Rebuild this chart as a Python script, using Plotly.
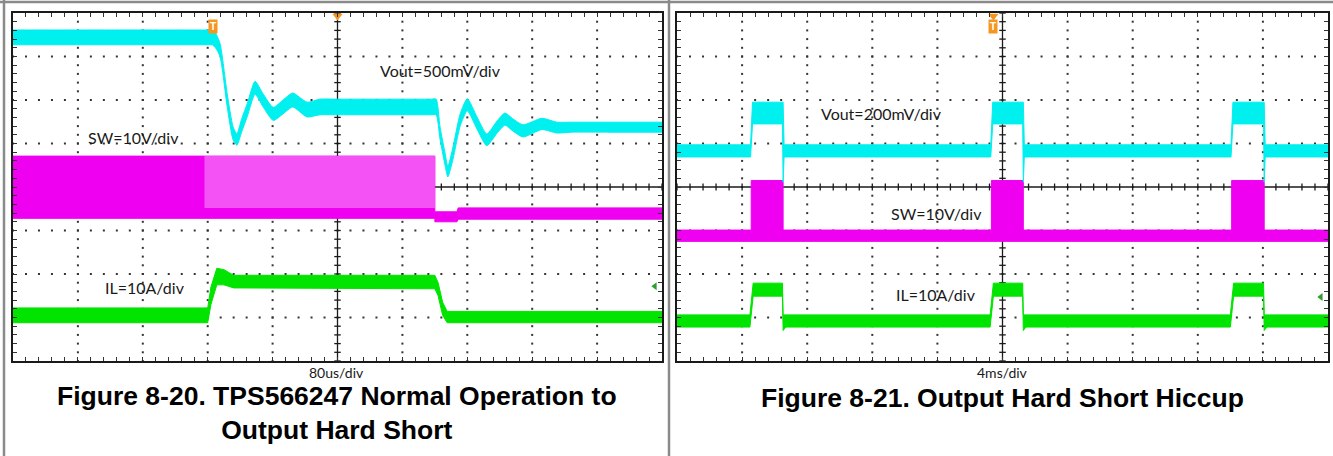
import numpy as np
import plotly.graph_objects as go

# ---- data read off the two scope captures (x in divisions, y in divisions) ----
# left capture: normal operation -> output hard short, 80us/div
vout_l_t = [-5.00, -3.50, -2.10, -1.97, -1.93, -1.88, -1.81, -1.70, -1.61, -1.55, -1.48, -1.39, -1.27, -1.15, -0.99,
            -0.84, -0.69, -0.47, -0.27, 0.00, 1.30, 1.45, 1.52, 1.58, 1.66, 1.70, 1.78, 1.89, 2.00, 2.15, 2.30,
            2.46, 2.58, 2.70, 2.86, 3.15, 3.38, 3.60, 4.20, 5.00]
vout_l_hi = [3.61, 3.61, 3.61, 3.61, 3.61, 3.54, 3.30, 2.15, 1.39, 1.22, 1.55, 1.92, 2.43, 2.15, 1.83,
             2.00, 2.16, 1.95, 2.02, 2.02, 2.02, 2.02, 2.02, 1.38, 0.76, 0.47, 0.92, 1.68, 2.03, 1.61, 1.22,
             1.52, 1.70, 1.57, 1.43, 1.58, 1.49, 1.49, 1.49, 1.49]
vout_l_lo = [3.27, 3.27, 3.27, 3.27, 3.27, 3.20, 3.00, 1.85, 1.09, 0.96, 1.25, 1.62, 2.13, 1.85, 1.53,
             1.68, 1.84, 1.61, 1.66, 1.66, 1.66, 1.66, 1.66, 1.10, 0.48, 0.23, 0.64, 1.40, 1.75, 1.33, 0.95,
             1.24, 1.42, 1.29, 1.15, 1.32, 1.24, 1.26, 1.26, 1.26]

sw_l_t = [-5.00, 1.50, 1.50, 1.84, 1.86, 5.00]
sw_l_hi = [0.71, 0.71, -0.57, -0.57, -0.48, -0.48]
sw_l_lo = [-0.72, -0.72, -0.80, -0.80, -0.74, -0.74]
sw_l_sparse_t = [-2.05, 1.50]          # interval where the switching gets sparse
sw_l_sparse_hi = [0.71, 0.71]
sw_l_sparse_lo = [-0.48, -0.48]

il_l_t = [-5.00, -2.00, -1.95, -1.86, -1.75, -1.60, 1.50, 1.55, 1.62, 1.69, 5.00]
il_l_hi = [-2.78, -2.78, -2.30, -1.87, -1.90, -2.03, -2.03, -2.20, -2.65, -2.86, -2.86]
il_l_lo = [-3.12, -3.12, -2.70, -2.25, -2.25, -2.32, -2.34, -2.50, -2.95, -3.12, -3.12]

# right capture: output hard short hiccup, 4ms/div
vout_r_t = [-5.00, -3.87, -3.84, -3.38, -3.37, -3.355, -0.18, -0.15, 0.31, 0.32, 0.335, 3.51, 3.54, 4.01, 4.02, 4.035, 5.00]
vout_r_hi = [0.97, 0.97, 1.95, 1.95, 1.95, 0.97, 0.97, 1.95, 1.95, 1.95, 0.97, 0.97, 1.95, 1.95, 1.95, 0.97, 0.97]
vout_r_lo = [0.69, 0.69, 1.45, 1.45, 0.11, 0.69, 0.69, 1.45, 1.45, 0.11, 0.69, 0.69, 1.45, 1.45, 0.11, 0.69, 0.69]

sw_r_t = [-5.00, -3.86, -3.86, -3.37, -3.37, -0.17, -0.17, 0.32, 0.32, 3.52, 3.52, 4.02, 4.02, 5.00]
sw_r_hi = [-0.99, -0.99, 0.15, 0.15, -0.99, -0.99, 0.15, 0.15, -0.99, -0.99, 0.15, 0.15, -0.99, -0.99]
sw_r_lo = [-1.25] * 14

il_r_t = [-5.00, -3.88, -3.83, -3.38, -3.37, -3.33, -0.19, -0.14, 0.31, 0.32, 0.36, 3.50, 3.55, 4.01, 4.02, 4.06, 5.00]
il_r_hi = [-2.94, -2.94, -2.21, -2.21, -2.94, -2.94, -2.94, -2.21, -2.21, -2.94, -2.94, -2.94, -2.21, -2.21, -2.94, -2.94, -2.94]
il_r_lo = [-3.22, -3.22, -2.51, -2.51, -3.30, -3.22, -3.22, -2.51, -2.51, -3.30, -3.22, -3.22, -2.51, -2.51, -3.30, -3.22, -3.22]

trig_t = [-1.92, -0.14]      # trigger point, left / right
trig_top_t = [0.0, -0.14]    # trigger position marker on top edge
gnd_t = [4.89, 4.89]         # IL reference arrow
gnd_v = [-2.28, -2.53]

labels_l = ["Vout=500mV/div", "SW=10V/div", "IL=10A/div"]
labels_l_t = [1.58, -3.15, -2.97]
labels_l_v = [2.67, 1.13, -2.32]
labels_r = ["Vout=200mV/div", "SW=10V/div", "IL=10A/div"]
labels_r_t = [-1.86, -1.02, -1.02]
labels_r_v = [1.70, -0.60, -2.48]
timebase = ["80us/div", "4ms/div"]
captions = ["Figure 8-20. TPS566247 Normal Operation to<br>Output Hard Short",
            "Figure 8-21. Output Hard Short Hiccup"]

CYAN = "#00EFEF"
MAG = "#F000F0"
GRN = "#00E400"
ORANGE = "#F5961E"

W, H = 1333, 456
fig = go.Figure()


def band(t, hi, lo, color, xa, ya, fillcolor=None, width=1, shape="linear"):
    fig.add_trace(go.Scatter(x=t, y=lo, mode="lines", line=dict(color=color, width=width, shape=shape, smoothing=0.6),
                             xaxis=xa, yaxis=ya, hoverinfo="skip", showlegend=False))
    fig.add_trace(go.Scatter(x=t, y=hi, mode="lines", line=dict(color=color, width=width, shape=shape, smoothing=0.6),
                             fill="tonexty", fillcolor=fillcolor or color,
                             xaxis=xa, yaxis=ya, hoverinfo="skip", showlegend=False))


def graticule(xa, ya):
    # dotted division grid
    gx, gy = [], []
    for i in range(-4, 5):
        if i == 0:
            continue
        for v in np.arange(-4, 4.001, 0.2):
            gx.append(i)
            gy.append(v)
    for j in range(-3, 4):
        if j == 0:
            continue
        for t in np.arange(-5, 5.001, 0.2):
            gx.append(t)
            gy.append(j)
    fig.add_trace(go.Scatter(x=gx, y=gy, mode="markers", xaxis=xa, yaxis=ya,
                             marker=dict(size=2, color="#333333", symbol="square", line=dict(width=0)),
                             hoverinfo="skip", showlegend=False))
    # center cross with sub-division ticks
    tx, ty = [-5, 5, None, 0, 0, None], [0, 0, None, -4, 4, None]
    for t in np.arange(-5, 5.001, 0.2):
        tx += [t, t, None]
        ty += [-0.08, 0.08, None]
    for v in np.arange(-4, 4.001, 0.2):
        tx += [-0.05, 0.05, None]
        ty += [v, v, None]
    fig.add_trace(go.Scatter(x=tx, y=ty, mode="lines", xaxis=xa, yaxis=ya,
                             line=dict(color="#1a1a1a", width=1.3),
                             hoverinfo="skip", showlegend=False))


graticule("x", "y")
graticule("x2", "y2")

# left capture
band(sw_l_t, sw_l_hi, sw_l_lo, MAG, "x", "y")
band(sw_l_sparse_t, sw_l_sparse_hi, sw_l_sparse_lo, "rgba(0,0,0,0)", "x", "y",
     fillcolor="rgba(255,255,255,0.32)", width=0)
band(il_l_t, il_l_hi, il_l_lo, GRN, "x", "y")
band(vout_l_t, vout_l_hi, vout_l_lo, CYAN, "x", "y", shape="spline")

# right capture
band(sw_r_t, sw_r_hi, sw_r_lo, MAG, "x2", "y2")
band(il_r_t, il_r_hi, il_r_lo, GRN, "x2", "y2")
band(vout_r_t, vout_r_hi, vout_r_lo, CYAN, "x2", "y2")

# trigger / reference markers
for k, (xa, ya) in enumerate([("x", "y"), ("x2", "y2")]):
    fig.add_trace(go.Scatter(x=[trig_top_t[k]], y=[3.93], mode="markers", xaxis=xa, yaxis=ya,
                             marker=dict(symbol="triangle-down", size=9, color=ORANGE),
                             cliponaxis=False, hoverinfo="skip", showlegend=False))
    fig.add_trace(go.Scatter(x=[gnd_t[k]], y=[gnd_v[k]], mode="markers", xaxis=xa, yaxis=ya,
                             marker=dict(symbol="triangle-left", size=7, color="#2E9E2E"),
                             hoverinfo="skip", showlegend=False))
    fig.add_annotation(x=trig_t[k], y=3.70, xref=xa, yref=ya, text="<b>T</b>", showarrow=False,
                       bgcolor=ORANGE, font=dict(color="white", size=10, family="Liberation Sans"),
                       borderpad=1)

lab_font = dict(family="Lato", size=16, color="#1a1a1a")
for s, t, v in zip(labels_l, labels_l_t, labels_l_v):
    fig.add_annotation(x=t, y=v, xref="x", yref="y", text=s, showarrow=False, font=lab_font)
for s, t, v in zip(labels_r, labels_r_t, labels_r_v):
    fig.add_annotation(x=t, y=v, xref="x2", yref="y2", text=s, showarrow=False, font=lab_font)

for k, xc in enumerate([337, 1002]):
    fig.add_annotation(x=xc / W, y=1 - 372 / H, xref="paper", yref="paper", text=timebase[k],
                       xanchor="center", yanchor="middle",
                       showarrow=False, font=dict(family="Lato", size=14, color="#1a1a1a"))
fig.add_annotation(x=337 / W, y=1 - 413 / H, xref="paper", yref="paper",
                   text="<b>" + captions[0].replace("<br>", "</b><br><b>") + "</b>",
                   xanchor="center", yanchor="middle",
                   showarrow=False, font=dict(family="Liberation Sans", size=26.5, color="black"))
fig.add_annotation(x=1002 / W, y=1 - 398 / H, xref="paper", yref="paper", text="<b>" + captions[1] + "</b>",
                   xanchor="center", yanchor="middle",
                   showarrow=False, font=dict(family="Liberation Sans", size=26.5, color="black"))

# table frame
for x0, y0, x1, y1 in [(4, 0, 4, H), (669, 0, 669, H), (0, 2, W, 2)]:
    fig.add_shape(type="line", xref="paper", yref="paper", x0=x0 / W, x1=x1 / W, y0=1 - y0 / H, y1=1 - y1 / H,
                  line=dict(color="#8a8a8a", width=2.5))

ax_common = dict(showgrid=False, zeroline=False, showticklabels=False, showline=True, linecolor="#1a1a1a",
                 linewidth=2, mirror="ticks", ticks="inside", ticklen=4, tickwidth=1, tickcolor="#333333",
                 tick0=0, dtick=0.2, fixedrange=True)
fig.update_layout(
    width=W, height=H, margin=dict(l=0, r=0, t=0, b=0),
    paper_bgcolor="white", plot_bgcolor="white", showlegend=False,
    xaxis=dict(domain=[13 / W, 662 / W], range=[-5, 5], anchor="y", **ax_common),
    yaxis=dict(domain=[1 - 361 / H, 1 - 13 / H], range=[-4, 4], anchor="x", **ax_common),
    xaxis2=dict(domain=[677 / W, 1328 / W], range=[-5, 5], anchor="y2", **ax_common),
    yaxis2=dict(domain=[1 - 361 / H, 1 - 13 / H], range=[-4, 4], anchor="x2", **ax_common),
)

fig.write_html("out.html", config={"displayModeBar": False},
               post_script="document.body.style.margin='0';")
